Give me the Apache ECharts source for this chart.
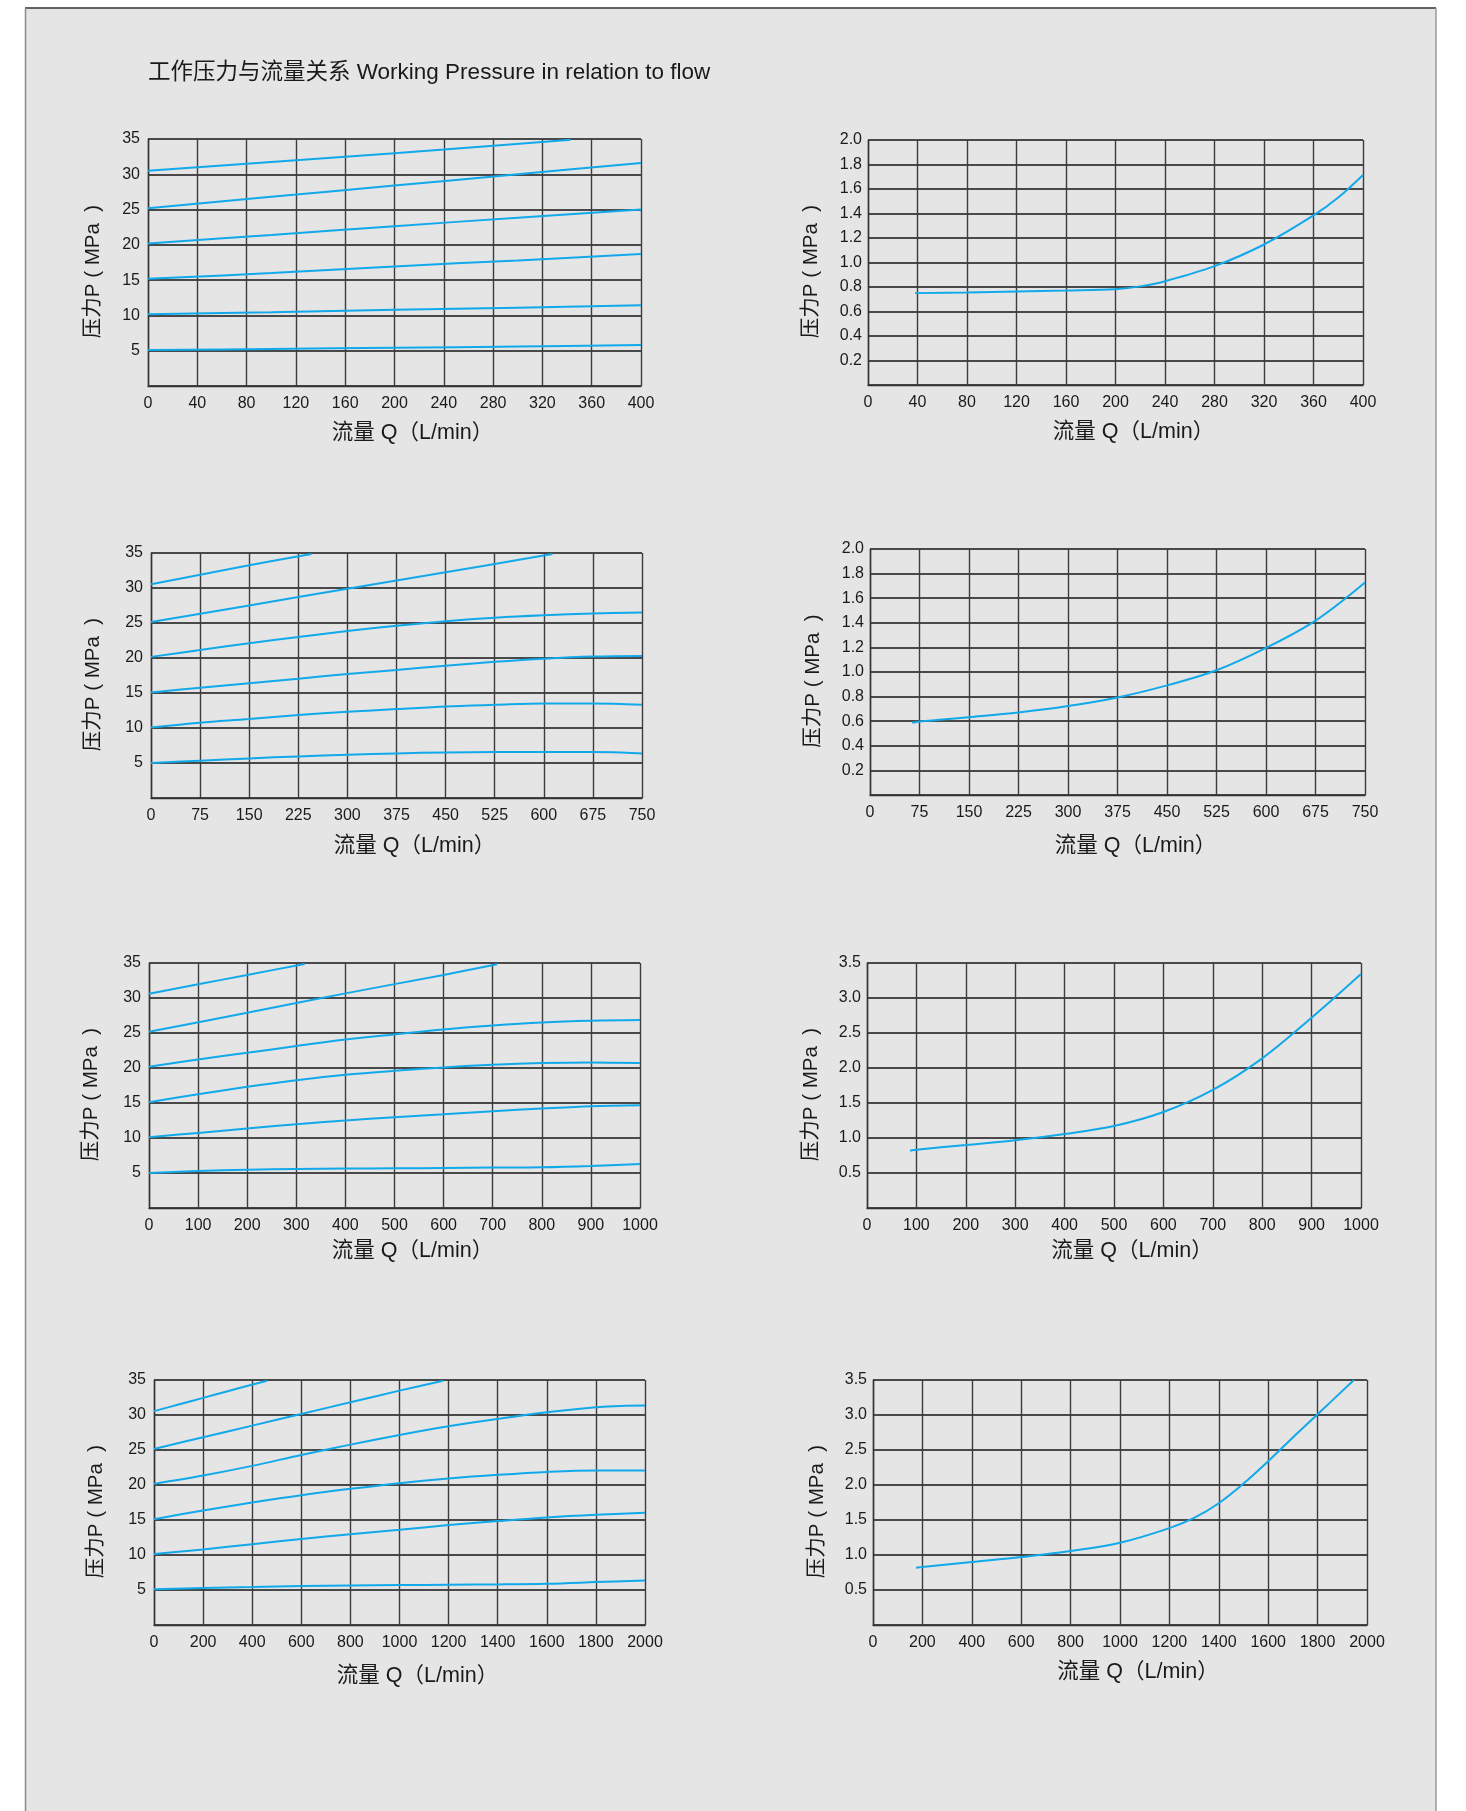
<!DOCTYPE html>
<html>
<head>
<meta charset="utf-8">
<script src="https://cdn.jsdelivr.net/npm/echarts@6/dist/echarts.min.js"></script>
<style>
html,body{margin:0;padding:0;background:#ffffff;}
#chart{width:1466px;height:1811px;}
</style>
</head>
<body>
<div id="chart"></div>
<script>
// ---------- text ----------
const titleText = '工作压力与流量关系 Working Pressure in relation to flow';
const xName = '流量 Q（L/min）';
const yName = '压力P ( MPa  )';

// ---------- axis ranges ----------
const xMaxes = [400, 400, 750, 750, 1000, 1000, 2000, 2000];
const xSteps = [40, 40, 75, 75, 100, 100, 200, 200];
const yMaxes = [35, 2.0, 35, 2.0, 35, 3.5, 35, 3.5];
const ySteps = [5, 0.2, 5, 0.2, 5, 0.5, 5, 0.5];

// ---------- chart 1 : 0-400 L/min, working pressure curves ----------
const c1_a = [[0,30.5],[80,31.5],[160,32.5],[240,33.5],[343,34.9]];
const c1_b = [[0,25.2],[100,26.8],[200,28.4],[300,30.0],[400,31.6]];
const c1_c = [[0,20.2],[100,21.4],[200,22.65],[300,23.85],[400,25.0]];
const c1_d = [[0,15.2],[100,16.0],[200,16.95],[300,17.8],[400,18.7]];
const c1_e = [[0,10.15],[100,10.45],[200,10.8],[300,11.1],[400,11.45]];
const c1_f = [[0,5.1],[100,5.25],[200,5.42],[300,5.6],[400,5.8]];

// ---------- chart 2 : 0-400 L/min, pressure drop ----------
const c2_a = [[38,0.75],[80,0.755],[120,0.763],[160,0.771],[200,0.782],[220,0.805],[240,0.847],[280,0.97],[320,1.147],[360,1.384],[380,1.53],[400,1.714]];

// ---------- chart 3 : 0-750 L/min ----------
const c3_a = [[0,30.55],[75,31.9],[150,33.25],[245,34.85]];
const c3_b = [[0,25.15],[150,27.5],[300,29.9],[450,32.25],[613,34.85]];
const c3_c = [[0,20.16],[75,21.15],[150,22.1],[225,23.0],[300,23.85],[375,24.6],[450,25.25],[525,25.75],[600,26.1],[675,26.35],[750,26.5]];
const c3_d = [[0,15.07],[75,15.75],[150,16.4],[225,17.05],[300,17.7],[375,18.3],[450,18.9],[525,19.45],[600,19.9],[675,20.2],[750,20.3]];
const c3_e = [[0,10.08],[75,10.75],[150,11.27],[225,11.84],[300,12.32],[375,12.7],[450,13.08],[525,13.31],[600,13.5],[675,13.5],[750,13.31]];
const c3_f = [[0,5.0],[75,5.33],[150,5.66],[225,5.94],[300,6.18],[375,6.37],[450,6.51],[525,6.56],[600,6.56],[675,6.56],[750,6.37]];

// ---------- chart 4 : 0-750 L/min, pressure drop ----------
const c4_a = [[64,0.587],[75,0.598],[150,0.633],[225,0.671],[300,0.723],[375,0.793],[450,0.891],[525,1.014],[600,1.196],[675,1.418],[750,1.728]];

// ---------- chart 5 : 0-1000 L/min ----------
const c5_a = [[0,30.6],[100,31.95],[200,33.3],[317,34.86]];
const c5_b = [[0,25.18],[200,27.9],[400,30.66],[600,33.3],[709,34.81]];
const c5_c = [[0,20.17],[100,21.22],[200,22.17],[300,23.13],[400,24.08],[500,24.8],[600,25.51],[700,26.08],[800,26.51],[900,26.75],[1000,26.85]];
const c5_d = [[0,15.12],[100,16.26],[200,17.31],[300,18.26],[400,19.03],[500,19.6],[600,20.08],[700,20.46],[800,20.7],[900,20.79],[1000,20.7]];
const c5_e = [[0,10.11],[100,10.73],[200,11.35],[300,11.97],[400,12.49],[500,12.97],[600,13.4],[700,13.83],[800,14.21],[900,14.54],[1000,14.69]];
const c5_f = [[0,5.0],[100,5.29],[200,5.48],[300,5.58],[400,5.63],[500,5.67],[600,5.72],[700,5.77],[800,5.82],[900,6.01],[1000,6.29]];

// ---------- chart 6 : 0-1000 L/min, pressure drop ----------
const c6_a = [[87,0.819],[100,0.833],[200,0.9],[300,0.967],[400,1.057],[500,1.171],[600,1.371],[700,1.686],[800,2.138],[900,2.719],[1000,3.343]];

// ---------- chart 7 : 0-2000 L/min ----------
const c7_a = [[0,30.55],[100,31.5],[200,32.45],[300,33.4],[461,34.9]];
const c7_b = [[0,25.15],[200,26.82],[400,28.48],[600,30.15],[800,31.81],[1000,33.48],[1178,34.9]];
const c7_c = [[0,20.16],[200,21.35],[400,22.73],[600,24.3],[800,25.77],[1000,27.15],[1200,28.39],[1400,29.44],[1600,30.39],[1800,31.1],[1900,31.3],[2000,31.34]];
const c7_d = [[0,15.12],[200,16.36],[400,17.5],[600,18.55],[800,19.45],[1000,20.26],[1200,20.92],[1400,21.45],[1600,21.87],[1800,22.08],[2000,22.06]];
const c7_e = [[0,10.13],[200,10.79],[400,11.55],[600,12.27],[800,12.98],[1000,13.6],[1200,14.27],[1400,14.84],[1600,15.36],[1800,15.74],[2000,16.02]];
const c7_f = [[0,5.09],[200,5.28],[400,5.42],[600,5.56],[800,5.66],[1000,5.71],[1200,5.75],[1400,5.8],[1600,5.9],[1800,6.13],[2000,6.37]];

// ---------- chart 8 : 0-2000 L/min, pressure drop ----------
const c8_a = [[174,0.818],[200,0.827],[400,0.899],[600,0.97],[800,1.056],[1000,1.174],[1200,1.384],[1300,1.53],[1400,1.74],[1500,2.02],[1600,2.34],[1700,2.68],[1800,3.01],[1947,3.5]];

const chartSeries = [
  [c1_a, c1_b, c1_c, c1_d, c1_e, c1_f],
  [c2_a],
  [c3_a, c3_b, c3_c, c3_d, c3_e, c3_f],
  [c4_a],
  [c5_a, c5_b, c5_c, c5_d, c5_e, c5_f],
  [c6_a],
  [c7_a, c7_b, c7_c, c7_d, c7_e, c7_f],
  [c8_a]
];

// ---------- layout (pixels) ----------
const grids = [
  {left:148, top:139, width:493, height:247},
  {left:868, top:140, width:495, height:245},
  {left:151, top:553, width:491, height:245},
  {left:870, top:549, width:495, height:246},
  {left:149, top:963, width:491, height:245},
  {left:867, top:963, width:494, height:245},
  {left:154, top:1380, width:491, height:245},
  {left:873, top:1380, width:494, height:245}
];
const xNameGaps = [36, 36, 37, 40, 32, 32, 40, 36];
const yNameGaps = [44, 46, 47, 46, 47, 45, 47, 45];

const FONT = "'Liberation Sans', Arial, 'Noto Sans CJK SC', sans-serif";
const LINE_COLOR = '#12a9ea';

const chart = echarts.init(document.getElementById('chart'), null, {renderer:'canvas'});

const xAxes = [], yAxes = [], series = [];
grids.forEach((g, i) => {
  const right = (i % 2) === 1;
  xAxes.push({
    type:'value', gridIndex:i, min:0, max:xMaxes[i], interval:xSteps[i],
    name:xName, nameLocation:'middle', nameGap:xNameGaps[i],
    nameTextStyle:{fontFamily:FONT, fontSize:21.5, color:'#1a1a1a', padding:[0,0,0,36]},
    axisLine:{show:true, onZero:false, lineStyle:{color:'#333', width:1.4}},
    axisTick:{show:false},
    axisLabel:{fontFamily:FONT, fontSize:16, color:'#1a1a1a', margin:10,
      formatter: v => String(v)},
    splitLine:{show:true, lineStyle:{color:'#3c3c3c', width:1.4}}
  });
  yAxes.push({
    type:'value', gridIndex:i, min:0, max:yMaxes[i], interval:ySteps[i],
    name:yName, nameLocation:'middle', nameGap:yNameGaps[i],
    nameTextStyle:{fontFamily:FONT, fontSize:20.5, color:'#1a1a1a', padding:[0,18,0,0]},
    axisLine:{show:true, onZero:false, lineStyle:{color:'#333', width:1.4}},
    axisTick:{show:false},
    axisLabel:{fontFamily:FONT, fontSize:16, color:'#1a1a1a', margin: right ? 6 : 8,
      formatter: v => v === 0 ? '' : (right ? v.toFixed(1) : String(v))},
    splitLine:{show:true, lineStyle:{color:'#141414', width:1.5}}
  });
  chartSeries[i].forEach(d => {
    series.push({
      type:'line', xAxisIndex:i, yAxisIndex:i, data:d,
      smooth:0.35, showSymbol:false, symbol:'none', silent:true,
      lineStyle:{color:LINE_COLOR, width:2}
    });
  });
});

chart.setOption({
  backgroundColor:'#ffffff',
  animation:false,
  title:{text:titleText, left:148, top:62, padding:0,
    textStyle:{fontFamily:FONT, fontSize:22.5, fontWeight:'normal', color:'#1a1a1a'}},
  graphic:[
    {type:'rect', z:-10, silent:true, shape:{x:25, y:8, width:1411, height:1820}, style:{fill:'#e5e5e5'}},
    {type:'line', z:-9, silent:true, shape:{x1:25, y1:8, x2:1436, y2:8}, style:{stroke:'#333', lineWidth:1.5}},
    {type:'line', z:-9, silent:true, shape:{x1:25.5, y1:8, x2:25.5, y2:1811}, style:{stroke:'#8a8a8a', lineWidth:1.5}},
    {type:'line', z:-9, silent:true, shape:{x1:1436, y1:8, x2:1436, y2:1811}, style:{stroke:'#9a9a9a', lineWidth:1.5}}
  ],
  grid:grids,
  xAxis:xAxes,
  yAxis:yAxes,
  series:series
});
</script>
</body>
</html>
